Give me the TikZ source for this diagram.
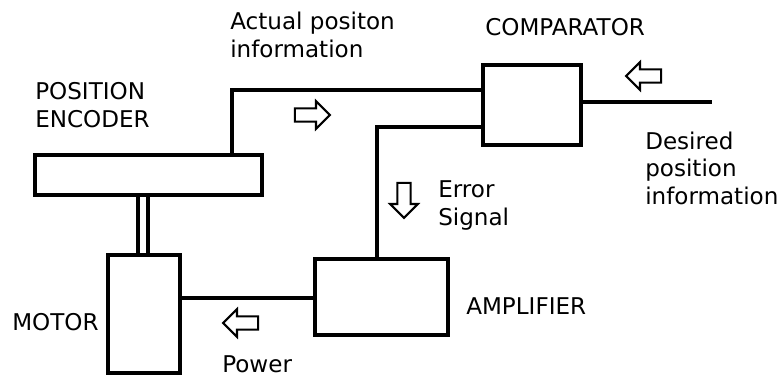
\documentclass[tikz,border=0pt]{standalone}
\usepackage{fontspec}
\setmainfont{DejaVu Sans}
\usetikzlibrary{shapes.arrows}
\begin{document}
\begin{tikzpicture}[x=0.025cm, y=-0.025cm,
  box/.style={draw, line width=2.4pt, inner sep=0pt},
  wire/.style={line width=2.4pt},
  lbl/.style={inner sep=0pt, align=left, font=\fontsize{16.4pt}{19.4pt}\selectfont},
  hollow/.style={single arrow, draw, line width=1.5pt, inner xsep=0pt, inner ysep=0.14cm,
    minimum height=0.875cm, single arrow head extend=0.18cm,
    single arrow head indent=0pt}]

\useasboundingbox (0,0) rectangle (780,376);

% ----------------------------------------------------
% 1. Blocks
% ----------------------------------------------------
\node[box, minimum width=5.675cm, minimum height=1.0cm] (enc) at (148.5,175) {};
\node[box, minimum width=2.45cm, minimum height=2.0cm] (comp) at (532,105) {};
\node[box, minimum width=3.325cm, minimum height=1.9cm] (amp) at (381.5,297) {};
\node[box, minimum width=1.8cm, minimum height=2.95cm] (motor) at (144,314) {};

% ----------------------------------------------------
% 2. Signal lines
% ----------------------------------------------------
\coordinate (tap) at (232,90);
\coordinate (err) at (377,127);
\coordinate (desired) at (712,102);
\coordinate (power) at (0,298);
\coordinate (shaftL) at (138,0);
\coordinate (shaftR) at (148,0);

\draw[wire] (enc.north -| tap) |- (comp.west |- tap);
\draw[wire] (comp.west |- err) -| (amp.north -| err);
\draw[wire] (comp.east |- desired) -- (desired);
\draw[wire] (motor.east |- power) -- (amp.west |- power);

% shaft between motor and encoder
\draw[wire] (enc.south -| shaftL) -- (motor.north -| shaftL);
\draw[wire] (enc.south -| shaftR) -- (motor.north -| shaftR);

% hollow flow arrows
\node[hollow] (aact) at (309,115) {};
\node[hollow, rotate=180] (ades) at (647,76) {};
\node[hollow, rotate=-90] (aerr) at (404,197) {};
\node[hollow, rotate=180] (apow) at (244,323) {};

% ----------------------------------------------------
% 3. Labels (base = last line)
% ----------------------------------------------------
\node[lbl, anchor=base west] (lcomp) at (485,35) {COMPARATOR};
\node[lbl, anchor=base west] (lact) at (230,57) {Actual positon\\information};
\node[lbl, anchor=base west] (lenc) at (35,127) {POSITION\\ENCODER};
\node[lbl, anchor=base west] (ldes) at (645,204) {Desired\\position\\information};
\node[lbl, anchor=base west] (lerr) at (438,225) {Error\\Signal};
\node[lbl, anchor=base west] (lamp) at (466,314) {AMPLIFIER};
\node[lbl, anchor=base west] (lmot) at (12,330) {MOTOR};
\node[lbl, anchor=base west] (lpow) at (222,372) {Power};

\end{tikzpicture}
\end{document}
